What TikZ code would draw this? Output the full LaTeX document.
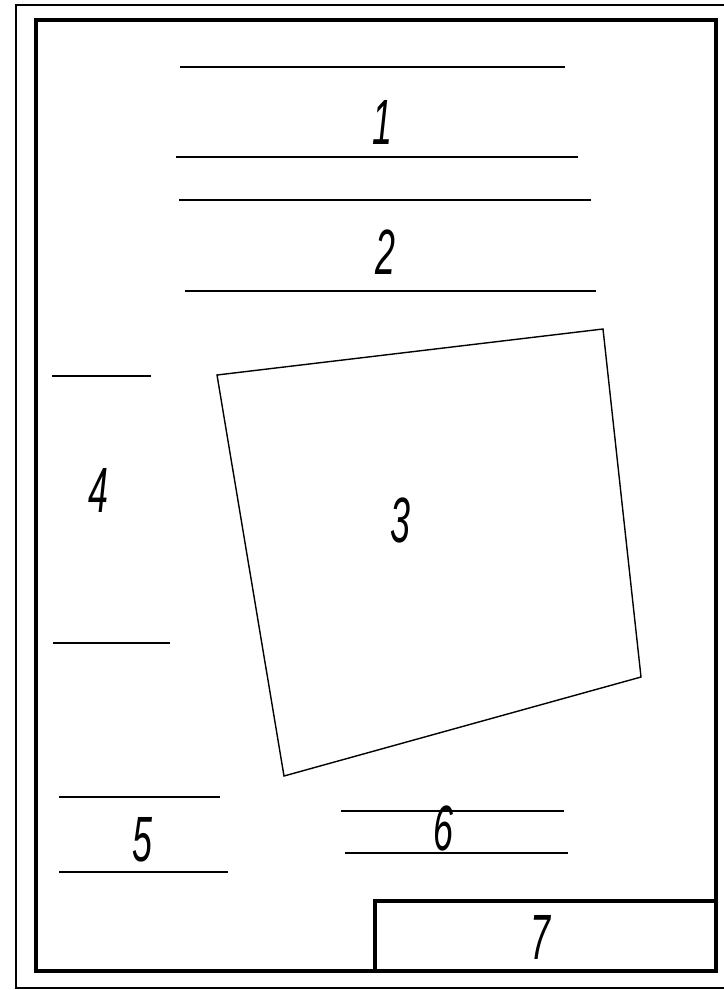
\documentclass[tikz,border=0pt]{standalone}
\usepackage{fontspec}
\setmainfont{Liberation Sans}
\usepackage{tikz}
\usetikzlibrary{positioning, calc}

\begin{document}
\begin{tikzpicture}[x=1pt, y=-1pt,
    thinline/.style={line width=1.4pt},
    frameline/.style={line width=4pt},
    numlabel/.style={font=\fontsize{64}{64}\selectfont\itshape, xscale=0.56, inner sep=0pt}]
    \useasboundingbox (0,0) rectangle (723,990);
    % sheet border (right side runs off the sheet) and inner frame
    \draw[line width=2.4pt] (16,5) rectangle (730,988);
    \draw[frameline] (36,20) rectangle (716,971);
    % title box
    \draw[frameline] (375,971) |- (716,901);
    \node[numlabel] (n7) at (540,937) {7};
    % fields 1 and 2
    \draw[thinline] (180,67) -- (565,67);
    \draw[thinline] (176,157) -- (578,157);
    \node[numlabel] (n1) at (382,122) {1};
    \draw[thinline] (179,200) -- (591,200);
    \draw[thinline] (185,291) -- (596,291);
    \node[numlabel] (n2) at (385,252) {2};
    % plot outline
    \draw[thinline] (217,375) -- (603,329) -- (641,677) -- (284,776) -- cycle;
    \node[numlabel] (n3) at (400,520) {3};
    % field 4
    \draw[thinline] (52,376) -- (151,376);
    \draw[thinline] (53,643) -- (170,643);
    \node[numlabel] (n4) at (98,490) {4};
    % fields 5 and 6
    \draw[thinline] (59,797) -- (220,797);
    \draw[thinline] (59,872) -- (228,872);
    \node[numlabel] (n5) at (142,840) {5};
    \draw[thinline] (341,811) -- (564,811);
    \draw[thinline] (345,853) -- (568,853);
    \node[numlabel] (n6) at (443,828) {6};
\end{tikzpicture}
\end{document}
